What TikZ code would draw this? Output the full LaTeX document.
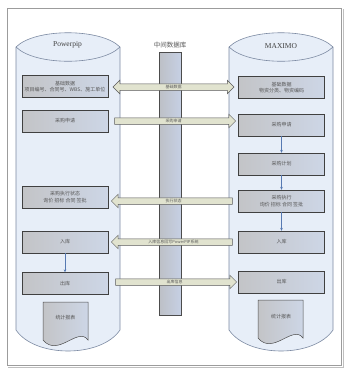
\documentclass[tikz,border=0pt]{standalone}
\usepackage{fontspec}
\setmainfont{Noto Sans CJK SC}
\newfontfamily\titlefont{Liberation Serif}
\usepackage{tikz}
\usetikzlibrary{arrows.meta,positioning,shapes.arrows}
\definecolor{frameline}{HTML}{9C9C9C}
\definecolor{tank}{HTML}{E7EEF8}
\definecolor{tankline}{HTML}{7C8AA2}
\definecolor{boxleft}{HTML}{C3C4C7}
\definecolor{boxright}{HTML}{CDD6E6}
\definecolor{dbleft}{HTML}{BDC0C6}
\definecolor{dbright}{HTML}{C6D0E4}
\definecolor{pipefill}{HTML}{E1E3CF}
\definecolor{flowblue}{HTML}{5679B2}
\definecolor{labelgray}{HTML}{575757}
% report sheet with a wavy lower edge, #1/#2 = upper left corner
\newcommand{\reportsheet}[2]{%
  \begin{scope}[shift={(#1,#2)}]
    \draw[sheet] (0,0) -- (45,0) -- (45,38)
      .. controls (35,24) and (15,56) .. (0,38) -- cycle;
  \end{scope}}
% storage tank, #1 = left side
\newcommand{\storetank}[1]{%
  \begin{scope}[shift={(#1,0)}]
    \draw[tankstyle] (0,47) .. controls (19,28) and (85,28) .. (104,47)
      -- (104,330) .. controls (85,358) and (19,358) .. (0,330) -- cycle;
    \draw[tankline,line width=0.6pt] (0,47) .. controls (19,66) and (85,66) .. (104,47);
  \end{scope}}

\begin{document}
\begin{tikzpicture}[x=1pt,y=-1pt,
  tankstyle/.style={draw=tankline,fill=tank,line width=0.6pt},
  box/.style={draw=black!75,left color=boxleft,right color=boxright,
    minimum width=86pt,minimum height=22pt,inner sep=0pt,align=center,
    text=labelgray,font=\fontsize{5}{6.5}\selectfont},
  sheet/.style={draw=black!70,left color=boxleft,right color=boxright,line width=0.5pt},
  pipe/.style={single arrow,draw=black!65,fill=pipefill,line width=0.5pt,
    minimum height=121pt,single arrow head extend=3.5pt,inner xsep=0pt,inner ysep=1pt,
    text height=3pt,text depth=1pt,text=labelgray,font=\fontsize{4}{4}\selectfont},
  flow/.style={-{Stealth[length=3pt,width=2.6pt]},draw=flowblue,line width=0.5pt},
  title/.style={text=black!75,font=\titlefont\fontsize{7.5}{8}\selectfont},
  every node/.style={font=\fontsize{5}{6.5}\selectfont}]
\useasboundingbox (0,0) rectangle (349,378);
\fill[white] (0,0) rectangle (349,378);

% outer frame
\draw[frameline,line width=0.6pt] (7,8) rectangle (341,365);
\draw[black!25,line width=0.8pt] (343,9) -- (343,367) -- (8,367);

\storetank{16}
\storetank{229}
\node[title] (pp) at (67.5,45) {Powerpip};
\node[title] (mx) at (281,46) {MAXIMO};

% middle database
\node[draw=black!70,left color=dbleft,right color=dbright,
  minimum width=22pt,minimum height=263pt,inner sep=0pt] (db) at (170,183.5) {};
\node[above=0pt of db,text=labelgray,font=\fontsize{6.5}{7}\selectfont] (dbname) {中间数据库};

% Powerpip side
\node[box] (lb1) at (65,86.5) {基础数据\\项目编号、合同号、WBS、施工单位};
\node[box] (lb2) at (65,121) {采购申请};
\node[box] (lb3) at (65,197) {采购执行状态\\询价 招标 合同 签批};
\node[box] (lb4) at (65,242) {入库};
\node[box] (lb5) at (65,283.5) {出库};
\reportsheet{43}{302}
\node[text=labelgray] (lrep) at (65.5,318) {统计报表};

% MAXIMO side
\node[box] (rb1) at (281.5,87.5) {基础数据\\物资分类、物资编码};
\node[box] (rb2) at (281.5,125) {采购申请};
\node[box] (rb3) at (281.5,164) {采购计划};
\node[box] (rb4) at (281.5,201) {采购执行\\询价 招标 合同 签批};
\node[box] (rb5) at (281.5,242) {入库};
\node[box] (rb6) at (281.5,282) {出库};
\reportsheet{258}{300}
\node[text=labelgray] (rrep) at (281,317) {统计报表};

\draw[flow] (lb4) -- (lb5);
\draw[flow] (rb2) -- (rb3);
\draw[flow] (rb3) -- (rb4);
\draw[flow] (rb4) -- (rb5);

% exchange through the middle database
\node[pipe,double arrow,double arrow head extend=3.5pt] (x1) at (173.5,87) {基础数据};
\node[pipe] (x2) at (173.5,121) {采购申请};
\node[pipe,shape border rotate=180] (x3) at (173.5,201) {执行状态};
\node[pipe,shape border rotate=180] (x4) at (173.5,242) {入库信息回写PowerPIP系统};
\node[pipe] (x5) at (174.5,282) {出库信息};
\end{tikzpicture}
\end{document}
